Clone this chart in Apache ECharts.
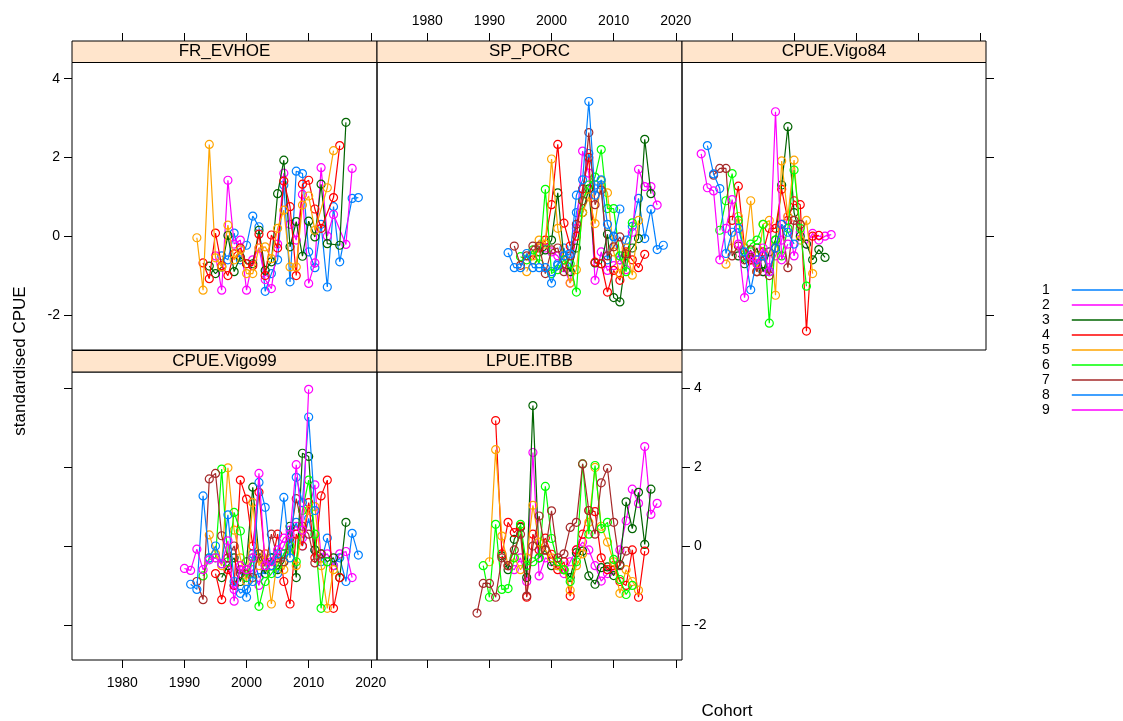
<!DOCTYPE html>
<html>
<head>
<meta charset="utf-8">
<script src="https://cdn.jsdelivr.net/npm/echarts@6/dist/echarts.min.js"></script>
<style>
  html, body { margin: 0; padding: 0; background: #ffffff; }
  #chart { width: 1123px; height: 721px; }
</style>
</head>
<body>
<div id="chart"></div>
<script>
// ---- data -------------------------------------------------------------
// age classes and their line colours (lattice superpose palette, recycled)
const ageNames  = ['1', '2', '3', '4', '5', '6', '7', '8', '9'];
const ageColors = ['#0080ff', '#ff00ff', '#006400', '#ff0000', '#ffa500',
                   '#00ff00', '#a52a2a', '#0080ff', '#ff00ff'];

const xTicks = [1980, 1990, 2000, 2010, 2020];
const yTicks = [-2, 0, 2, 4];

// FR_EVHOE : ages 1-5, first cohort of each age, standardised CPUE by cohort
const evhoeAges  = [1, 2, 3, 4, 5];
const evhoeFirst = [1996, 1995, 1994, 1993, 1992];
const evhoeAge1 = [-0.5, -0.6, 0.08, -0.6, -0.23, 0.51, 0.24, -1.4, -0.95, -0.6, 1.3, -1.16, 1.65, 1.59, -0.4, -0.8, 0.3, -1.29, 0.75, -0.65, null, 0.96, 0.98];
const evhoeAge2 = [-0.5, -1.37, 1.42, -0.2, -0.1, -1.37, -0.6, -0.3, -1.1, -1.33, -0.2, 1.6, 0.3, -0.1, 1.06, -1.2, -0.68, 1.74, 0.0, 0.55, null, -0.21, 1.72];
const evhoeAge3 = [-0.76, -0.95, -0.78, 0.02, -0.9, -0.53, -0.7, -0.7, 0.15, -0.87, -0.65, 1.08, 1.93, -0.27, 0.37, -0.51, 0.38, -0.02, 1.32, -0.19, null, -0.23, 2.89];
const evhoeAge4 = [-0.68, -1.08, 0.08, -0.75, -1.0, -0.45, -0.3, -0.7, -0.75, 0.05, -1.0, 0.03, -0.3, 1.4, 0.75, -1.0, 1.32, 1.42, 0.69, 0.2, null, 0.98, 2.3];
const evhoeAge5 = [-0.04, -1.37, 2.33, -0.55, -0.78, 0.28, -0.6, -0.35, -0.95, -0.95, -0.3, -0.27, -0.57, 0.2, 0.66, -0.78, -0.78, 0.79, 1.02, 0.15, null, 1.23, 2.17];

// SP_PORC : ages 1-8
const porcAges  = [1, 2, 3, 4, 5, 6, 7, 8];
const porcFirst = [2000, 1999, 1998, 1997, 1996, 1995, 1994, 1993];
const porcAge1 = [-0.9, -0.7, -0.3, -0.9, 0.6, 1.2, 2.1, 1.3, 1.3, -0.6, 0.0, -0.6, -0.1, 0.25, 0.96, -0.06, 0.68, -0.34, -0.23];
const porcAge2 = [-0.3, -0.4, -0.5, -0.8, -1.19, 0.2, 2.16, 1.6, -1.12, -0.4, -0.87, -0.75, -0.6, -0.85, 0.1, 1.7, 1.26, 1.26, 0.79];
const porcAge3 = [-0.4, -0.35, -0.1, 1.1, -0.6, -0.9, -0.3, 0.6, 1.2, -0.68, -0.7, 0.05, -1.56, -1.67, -0.5, -0.3, -0.06, 2.46, 1.08];
const porcAge4 = [-0.6, -0.3, -0.1, 0.8, 2.33, 0.33, -0.25, 0.0, 1.2, 2.0, -0.66, -0.7, -1.42, -0.87, -1.12, -0.4, -0.6, -0.8, -0.46];
const porcAge5 = [-0.9, -0.5, -0.1, -0.2, 1.96, 0.2, -0.6, -1.19, -0.85, 0.6, 1.0, 0.32, 1.41, 1.1, -0.4, -0.95, -0.3, -0.99, 0.4];
const porcAge6 = [-0.52, -0.6, -0.35, -0.7, 1.19, -0.95, -0.85, -0.6, -0.7, -1.42, 0.9, 1.3, 1.5, 2.2, 0.7, 0.7, -0.5, -0.9, 0.34];
const porcAge7 = [-0.25, -0.74, -0.5, -0.25, -0.25, -0.95, -0.35, -0.3, -0.9, -0.5, 0.3, 0.9, 2.63, 0.8, 1.17, -0.5, -0.27, -0.02, -0.45];
const porcAge8 = [-0.42, -0.8, -0.8, -0.44, -0.8, -0.8, -0.8, -1.19, -0.74, -0.5, -0.45, 1.04, 1.43, 3.42, 1.04, 1.43, 0.3, -0.02, 0.69];

// CPUE.Vigo84 : ages 2-9
const vigo84Ages  = [2, 3, 4, 5, 6, 7, 8, 9];
const vigo84First = [1982, 1981, 1980, 1979, 1978, 1977, 1976, 1975];
const vigo84Age2 = [-0.3, -0.55, -0.6, -0.9, -0.8, -0.5, -0.1, 0.5, -0.5, 0.1, -0.2, 0.07, -0.1, 0.0, 0.04];
const vigo84Age3 = [-0.5, -0.7, -0.6, -0.3, -0.9, -0.4, -0.1, 1.3, 2.78, 0.6, 0.0, -0.2, -0.6, -0.34, -0.54];
const vigo84Age4 = [0.4, 1.27, -0.3, -0.6, -0.9, -0.4, 0.2, 0.2, 1.19, 0.4, 0.9, 0.8, -2.41, 0.0, 0.02];
const vigo84Age5 = [-0.71, -0.3, 0.5, -0.3, 0.9, -0.9, 0.3, 0.4, -1.5, 1.91, 0.5, 1.93, -0.1, 0.4, -0.95];
const vigo84Age6 = [0.15, 0.9, 1.59, 0.4, -0.53, -0.2, -0.1, 0.3, -2.21, -0.1, -0.5, 0.2, 1.68, 0.2, -1.27];
const vigo84Age7 = [1.55, 1.72, 1.72, -0.5, -0.25, -0.6, -0.35, -0.9, -0.5, -1.0, -0.3, 0.3, -0.8, 0.4, 0.3];
const vigo84Age8 = [2.30, 1.58, 1.21, -0.44, 0.1, 0.2, -0.4, -1.36, -0.6, -0.5, -0.9, -0.3, 0.3, 0.1, -0.2];
const vigo84Age9 = [2.09, 1.23, 1.15, -0.6, 0.2, 0.93, -0.2, -1.56, -0.5, -0.7, -0.3, -0.9, 3.16, -0.6, -0.2];

// CPUE.Vigo99 : ages 1-9
const vigo99Ages  = [1, 2, 3, 4, 5, 6, 7, 8, 9];
const vigo99First = [1998, 1997, 1996, 1995, 1994, 1993, 1992, 1991, 1990];
const vigo99Age1 = [-1.0, -0.6, -1.3, -0.2, -0.8, -0.6, -0.3, -0.7, -0.2, 0.1, 0.6, 0.0, 0.7, -0.1, -0.4, 0.2, -0.5, -0.3, -0.9, 0.32, -0.23];
const vigo99Age2 = [-0.5, -1.1, -0.6, -0.8, -0.6, -1.0, -0.2, -0.5, -0.3, 0.0, 0.4, 0.5, 0.2, 0.9, 1.55, -0.3, -0.2, -0.5, -0.2, -0.14, -0.8];
const vigo99Age3 = [-0.8, -0.5, -0.3, -0.9, -0.4, 1.49, -0.3, -0.7, -0.3, -0.6, -0.4, 0.5, -0.8, 2.35, 2.27, -0.1, -0.2, -0.4, -0.3, -0.8, 0.6];
const vigo99Age4 = [-0.7, -1.36, -0.6, -1.0, 1.67, 1.19, 0.0, 1.36, -0.4, -0.5, 0.3, -0.9, -1.47, 0.3, 0.0, 1.1, -0.3, 1.27, 1.67, -1.58, -0.8];
const vigo99Age5 = [0.28, -0.2, -0.5, 1.98, 0.4, -0.3, -0.9, 1.1, -0.5, -0.2, -1.47, -0.3, -0.6, 0.0, -0.5, 0.4, 0.9, 1.0, -0.5, -1.58, -0.6];
const vigo99Age6 = [-0.76, -0.3, -0.3, 1.95, -0.4, 0.85, 0.38, -0.8, -0.3, -1.53, -0.9, -0.7, -0.5, -0.2, 0.0, -0.4, 0.9, 1.67, 0.3, -1.58, -0.4];
const vigo99Age7 = [-0.9, -1.36, 1.7, 1.84, 0.26, -0.3, 0.0, -0.7, -0.6, -0.8, -0.2, -0.5, 0.3, -0.3, -0.4, 0.2, 1.2, 0.5, 0.3, -0.43, -0.2];
const vigo99Age8 = [-0.97, -1.1, 1.27, -0.31, 0.0, -0.45, 0.79, -0.9, -1.2, -1.1, -0.9, 1.61, 0.98, -0.5, -0.2, 1.23, -0.3, 1.74, 1.1, 3.27, 0.9];
const vigo99Age9 = [-0.57, -0.62, -0.08, -0.6, -0.35, -0.3, -0.45, 0.13, -1.4, -0.5, -0.6, -0.3, 1.84, -0.5, -0.4, -0.1, 0.2, 0.3, 2.06, 0.4, 3.97];

// LPUE.ITBB : ages 2-7
const itbbAges  = [2, 3, 4, 5, 6, 7];
const itbbFirst = [1993, 1992, 1991, 1990, 1989, 1988];
const itbbAge2 = [-0.5, -0.6, -0.3, -0.9, 2.37, -0.76, -0.3, -0.4, -0.5, -0.7, -0.4, -0.1, 0.1, -0.1, -0.5, -0.89, -0.7, -0.6, -0.1, 0.64, 1.44, 1.08, 2.52, 0.8, 1.08];
const itbbAge3 = [-0.25, -0.6, 0.17, 0.47, -0.8, 3.56, -0.3, -0.1, -0.5, -0.4, -0.6, -0.8, -0.17, -0.13, -0.76, -0.97, -0.55, -0.53, -0.75, -0.47, 1.12, 0.44, 1.36, 0.04, 1.44];
const itbbAge4 = [3.18, -0.2, 0.6, 0.34, 0.5, -1.3, 0.3, -0.1, 0.2, -0.21, -0.6, -0.4, -1.27, -0.1, 0.3, 0.9, 0.87, -0.3, -0.6, -0.5, -0.9, -1.0, -0.1, -1.3, -0.13];
const itbbAge5 = [-0.4, 2.44, 0.25, -0.5, -0.3, -0.6, -0.3, 1.03, 0.1, -0.1, -0.3, -0.5, -0.6, -1.12, -0.5, -0.2, 0.6, 1.99, 0.5, 0.1, -0.4, -1.2, -0.6, -0.9, -1.12];
const itbbAge6 = [-0.5, -1.3, 0.55, -1.1, -1.08, -0.3, 0.55, -0.5, -0.4, -0.3, 1.51, 0.19, -0.4, -0.6, -0.9, -0.4, 2.08, 0.3, 2.04, 0.44, 0.6, -0.34, -0.85, -1.23, -1.0];
const itbbAge7 = [-1.7, -0.95, -0.95, -1.3, -0.3, -0.5, -0.1, 0.3, -1.27, 0.0, 0.76, -0.1, 0.89, -0.3, -0.2, 0.47, 0.6, 2.08, 0.9, 0.3, 1.6, 1.97, 0.6, -0.5, -0.13];

const panelNames = ['FR_EVHOE', 'SP_PORC', 'CPUE.Vigo84', 'CPUE.Vigo99', 'LPUE.ITBB'];
const panelAges  = [evhoeAges, porcAges, vigo84Ages, vigo99Ages, itbbAges];
const panelFirst = [evhoeFirst, porcFirst, vigo84First, vigo99First, itbbFirst];
const panelValues = [
  [evhoeAge1, evhoeAge2, evhoeAge3, evhoeAge4, evhoeAge5],
  [porcAge1, porcAge2, porcAge3, porcAge4, porcAge5, porcAge6, porcAge7, porcAge8],
  [vigo84Age2, vigo84Age3, vigo84Age4, vigo84Age5, vigo84Age6, vigo84Age7, vigo84Age8, vigo84Age9],
  [vigo99Age1, vigo99Age2, vigo99Age3, vigo99Age4, vigo99Age5, vigo99Age6, vigo99Age7, vigo99Age8, vigo99Age9],
  [itbbAge2, itbbAge3, itbbAge4, itbbAge5, itbbAge6, itbbAge7]
];

// ---- layout -----------------------------------------------------------
const X_MIN = 1971.9, X_MAX = 2021.0;
const Y_MIN = -2.89,  Y_MAX = 4.41;
const STRIP_H = 21.5;
const FONT = '"Liberation Sans", Arial, Helvetica, sans-serif';

// panel boxes (plot region only; strip sits above each)
const boxes = [
  { left: 72,  top: 62.5, width: 305, height: 287.5 },
  { left: 377, top: 62.5, width: 305, height: 287.5 },
  { left: 682, top: 62.5, width: 304, height: 287.5 },
  { left: 72,  top: 372,  width: 305, height: 288 },
  { left: 377, top: 372,  width: 305, height: 288 }
];
// alternating lattice axes: where ticks go and which get labels
const xAxisSide = ['top', 'top', 'top', 'bottom', 'bottom'];
const xLabelOn  = [false, true, false, true, false];
const ySide     = ['left', null, 'right', 'left', 'right'];
const yLabelOn  = [true, false, false, false, true];

const tickStyle = { show: true, inside: false, length: 8, lineStyle: { color: '#000', width: 1 } };
const labelStyle = { color: '#000', fontFamily: FONT, fontSize: 14, formatter: v => String(v) };

const grids = [], xAxes = [], yAxes = [], series = [], graphics = [];

boxes.forEach((b, i) => {
  grids.push({ left: b.left, top: b.top, width: b.width, height: b.height,
               show: true, borderColor: '#000', borderWidth: 1, backgroundColor: 'transparent',
               containLabel: false });
  const top = xAxisSide[i] === 'top';
  xAxes.push({
    type: 'value', gridIndex: i, min: X_MIN, max: X_MAX,
    position: xAxisSide[i], offset: top ? STRIP_H : 0,
    axisLine: { show: false, onZero: false }, splitLine: { show: false },
    axisTick: Object.assign({}, tickStyle, { customValues: xTicks }),
    axisLabel: Object.assign({}, labelStyle, { show: xLabelOn[i], customValues: xTicks,
                                               margin: top ? 13 : 16 })
  });
  yAxes.push({
    type: 'value', gridIndex: i, min: Y_MIN, max: Y_MAX,
    position: ySide[i] || 'left', show: ySide[i] !== null,
    axisLine: { show: false, onZero: false }, splitLine: { show: false },
    axisTick: Object.assign({}, tickStyle, { customValues: yTicks }),
    axisLabel: Object.assign({}, labelStyle, { show: yLabelOn[i], customValues: yTicks,
                                               margin: 12 })
  });

  // strip with the panel name
  graphics.push({
    type: 'rect', z: 10,
    shape: { x: b.left, y: b.top - STRIP_H, width: b.width, height: STRIP_H },
    style: { fill: '#ffe5cc', stroke: '#000', lineWidth: 1 }
  });
  graphics.push({
    type: 'text', z: 11,
    x: b.left + b.width / 2, y: b.top - STRIP_H / 2,
    style: { text: panelNames[i], fill: '#000', font: '17px ' + FONT,
             align: 'center', verticalAlign: 'middle' }
  });

  // one line per age class
  panelAges[i].forEach((age, k) => {
    const first = panelFirst[i][k];
    const pts = panelValues[i][k].map((v, j) => [first + j, v]);
    const col = ageColors[age - 1];
    series.push({
      type: 'line', name: ageNames[age - 1],
      xAxisIndex: i, yAxisIndex: i,
      data: pts, connectNulls: true,
      symbol: 'circle', symbolSize: 8, showSymbol: true,
      lineStyle: { color: col, width: 1.2 },
      itemStyle: { color: 'rgba(0,0,0,0)', borderColor: col, borderWidth: 1.2 },
      emphasis: { disabled: true },
      z: 2 + age, silent: true, animation: false
    });
  });
});

// axis titles
graphics.push({
  type: 'text', x: 20, y: 361, rotation: Math.PI / 2,
  style: { text: 'standardised CPUE', fill: '#000', font: '17px ' + FONT,
           align: 'center', verticalAlign: 'middle' }
});
graphics.push({
  type: 'text', x: 727, y: 711,
  style: { text: 'Cohort', fill: '#000', font: '17px ' + FONT,
           align: 'center', verticalAlign: 'middle' }
});

const option = {
  backgroundColor: '#ffffff',
  animation: false,
  grid: grids,
  xAxis: xAxes,
  yAxis: yAxes,
  series: series,
  graphic: graphics,
  legend: {
    orient: 'vertical', left: 1037, top: 277.5,
    align: 'right', icon: 'rect', itemWidth: 52, itemHeight: 1.5, itemGap: 0,
    selectedMode: false,
    textStyle: { color: '#000', fontFamily: FONT, fontSize: 14, lineHeight: 15,
                 padding: [0, 17, 0, 0] },
    itemStyle: { borderWidth: 0 },
    data: ageNames.map((n, k) => ({ name: n, itemStyle: { color: ageColors[k], borderWidth: 0 } }))
  }
};

const chart = echarts.init(document.getElementById('chart'), null, { renderer: 'canvas' });
chart.setOption(option);
</script>
</body>
</html>
